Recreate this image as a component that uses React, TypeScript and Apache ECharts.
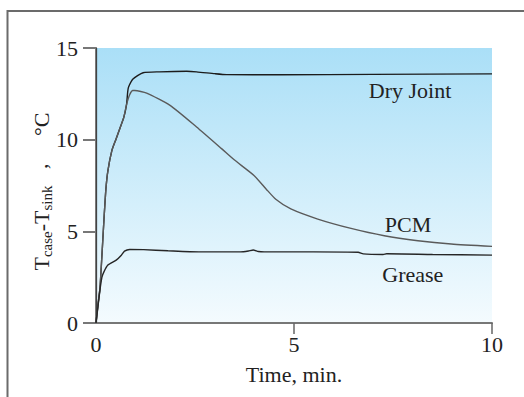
import React, { useEffect, useRef } from "react";
import * as echarts from "echarts";

const FONT = "'Liberation Serif', 'Times New Roman', serif";

const dryTime = [0, 0.05, 0.1, 0.15, 0.2, 0.25, 0.3, 0.4, 0.5, 0.6, 0.7, 0.77, 0.8, 0.82, 0.94, 1.19, 1.6, 2.29, 2.54, 3.0, 3.3, 4.65, 7, 10];
const dryVal = [0, 1.0, 1.9, 3.7, 5.6, 7.3, 8.3, 9.4, 10.0, 10.6, 11.2, 11.9, 12.6, 12.86, 13.32, 13.65, 13.7, 13.73, 13.7, 13.6, 13.55, 13.54, 13.56, 13.59];

const pcmTime = [0, 0.05, 0.1, 0.15, 0.2, 0.25, 0.3, 0.4, 0.5, 0.6, 0.7, 0.77, 0.85, 0.93, 0.98, 1.28, 1.87, 2.54, 3.17, 3.49, 3.99, 4.3, 4.54, 4.92, 5.6, 6.44, 7.28, 8.13, 8.97, 10];
const pcmVal = [0, 1.0, 1.9, 3.7, 5.6, 7.3, 8.3, 9.4, 10.0, 10.6, 11.2, 11.9, 12.45, 12.68, 12.68, 12.54, 11.87, 10.69, 9.51, 8.9, 8.05, 7.3, 6.75, 6.22, 5.67, 5.16, 4.76, 4.49, 4.31, 4.18];

const greaseTime = [0, 0.05, 0.1, 0.15, 0.2, 0.3, 0.51, 0.64, 0.72, 0.85, 1.2, 1.82, 2.6, 3.65, 3.85, 3.97, 4.1, 4.25, 5.5, 6.62, 6.75, 7.25, 7.34, 8.5, 10];
const greaseVal = [0, 0.9, 1.8, 2.5, 2.79, 3.16, 3.43, 3.7, 3.92, 4.01, 4.0, 3.94, 3.88, 3.88, 3.93, 3.98, 3.9, 3.88, 3.88, 3.86, 3.77, 3.74, 3.78, 3.74, 3.7];

const xTicks = [5, 10];

const pairs = (t: number[], v: number[]) => t.map((x, i) => [x, v[i]]);

export default function App() {
  const ref = useRef<HTMLDivElement>(null);
  useEffect(() => {
    if (!ref.current) return;
    const chart = echarts.init(ref.current, null, { renderer: "svg" });
    const labelStyle = { fontSize: 22, color: "#222", fontFamily: FONT };
    const mk = (name: string, coord: number[]) => ({
      symbol: "circle",
      symbolSize: 0,
      silent: true,
      label: { show: true, position: "inside", formatter: name, ...labelStyle },
      data: [{ coord }],
    });
    chart.setOption({
      animation: false,
      backgroundColor: "#ffffff",
      grid: {
        left: 96,
        top: 48,
        right: 32,
        bottom: 74,
        show: true,
        borderWidth: 0,
        backgroundColor: new echarts.graphic.LinearGradient(0, 0, 0, 1, [
          { offset: 0, color: "#aadff7" },
          { offset: 1, color: "#f4fbfe" },
        ]),
      },
      graphic: [
        { type: "line", shape: { x1: 7.5, y1: 11, x2: 524, y2: 11 }, style: { stroke: "#6b6b6b", lineWidth: 2 } },
        { type: "line", shape: { x1: 7.5, y1: 10, x2: 7.5, y2: 397 }, style: { stroke: "#6b6b6b", lineWidth: 2 } },
      ],
      xAxis: [
        {
          type: "value",
          min: 0,
          max: 10,
          interval: 5,
          position: "bottom",
          axisLine: { show: true, onZero: false, lineStyle: { color: "#444", width: 1.2 } },
          axisTick: { show: true, length: 11, customValues: xTicks, lineStyle: { color: "#666", width: 1.5 } },
          axisLabel: { margin: 10, ...labelStyle },
          splitLine: { show: false },
          name: "Time, min.",
          nameLocation: "middle",
          nameGap: 40,
          nameMoveOverlap: false,
          nameTextStyle: labelStyle,
        },
        {
          type: "value",
          min: 0,
          max: 10,
          position: "top",
          axisLine: { show: true, lineStyle: { color: "#777", width: 2 } },
          axisTick: { show: false },
          axisLabel: { show: false },
          splitLine: { show: false },
        },
      ],
      yAxis: [
        {
          type: "value",
          min: 0,
          max: 15,
          interval: 5,
          position: "left",
          axisLine: { show: true, onZero: false, lineStyle: { color: "#111", width: 1.2 } },
          axisTick: { show: true, length: 13, lineStyle: { color: "#777", width: 2 } },
          axisLabel: { margin: 18, ...labelStyle },
          splitLine: { show: false },
          name: "{T|T}{sub|case}{T|-T}{sub|sink}{T|   }{c|,}{T|     °C}",
          nameLocation: "middle",
          nameRotate: 90,
          nameGap: 42,
          nameMoveOverlap: false,
          nameTextStyle: {
            ...labelStyle,
            padding: [0, 12, 0, 0],
            rich: {
              T: { fontSize: 22, lineHeight: 26, fontFamily: FONT, color: "#222", verticalAlign: "middle" },
              sub: { fontSize: 15, lineHeight: 17, fontFamily: FONT, color: "#222", verticalAlign: "bottom" },
              c: { fontSize: 22, lineHeight: 16, fontFamily: FONT, color: "#222", verticalAlign: "top" },
            },
          },
        },
        {
          type: "value",
          min: 0,
          max: 15,
          position: "right",
          axisLine: { show: true, lineStyle: { color: "#555", width: 1.5 } },
          axisTick: { show: false },
          axisLabel: { show: false },
          splitLine: { show: false },
        },
      ],
      series: [
        {
          name: "Dry Joint",
          type: "line",
          data: pairs(dryTime, dryVal),
          showSymbol: false,
          smooth: 0.2,
          lineStyle: { color: "#1c1c1c", width: 1.4 },
          markPoint: mk("Dry Joint", [7.93, 12.7]),
        },
        {
          name: "PCM",
          type: "line",
          data: pairs(pcmTime, pcmVal),
          showSymbol: false,
          smooth: 0.2,
          lineStyle: { color: "#5a5a5a", width: 1.4 },
          markPoint: mk("PCM", [7.88, 5.39]),
        },
        {
          name: "Grease",
          type: "line",
          data: pairs(greaseTime, greaseVal),
          showSymbol: false,
          smooth: 0.2,
          lineStyle: { color: "#262626", width: 1.4 },
          markPoint: mk("Grease", [8.0, 2.67]),
        },
      ],
    });
    return () => chart.dispose();
  }, []);
  return <div ref={ref} style={{ position: "absolute", left: 0, top: 0, width: 524, height: 397 }} />;
}
